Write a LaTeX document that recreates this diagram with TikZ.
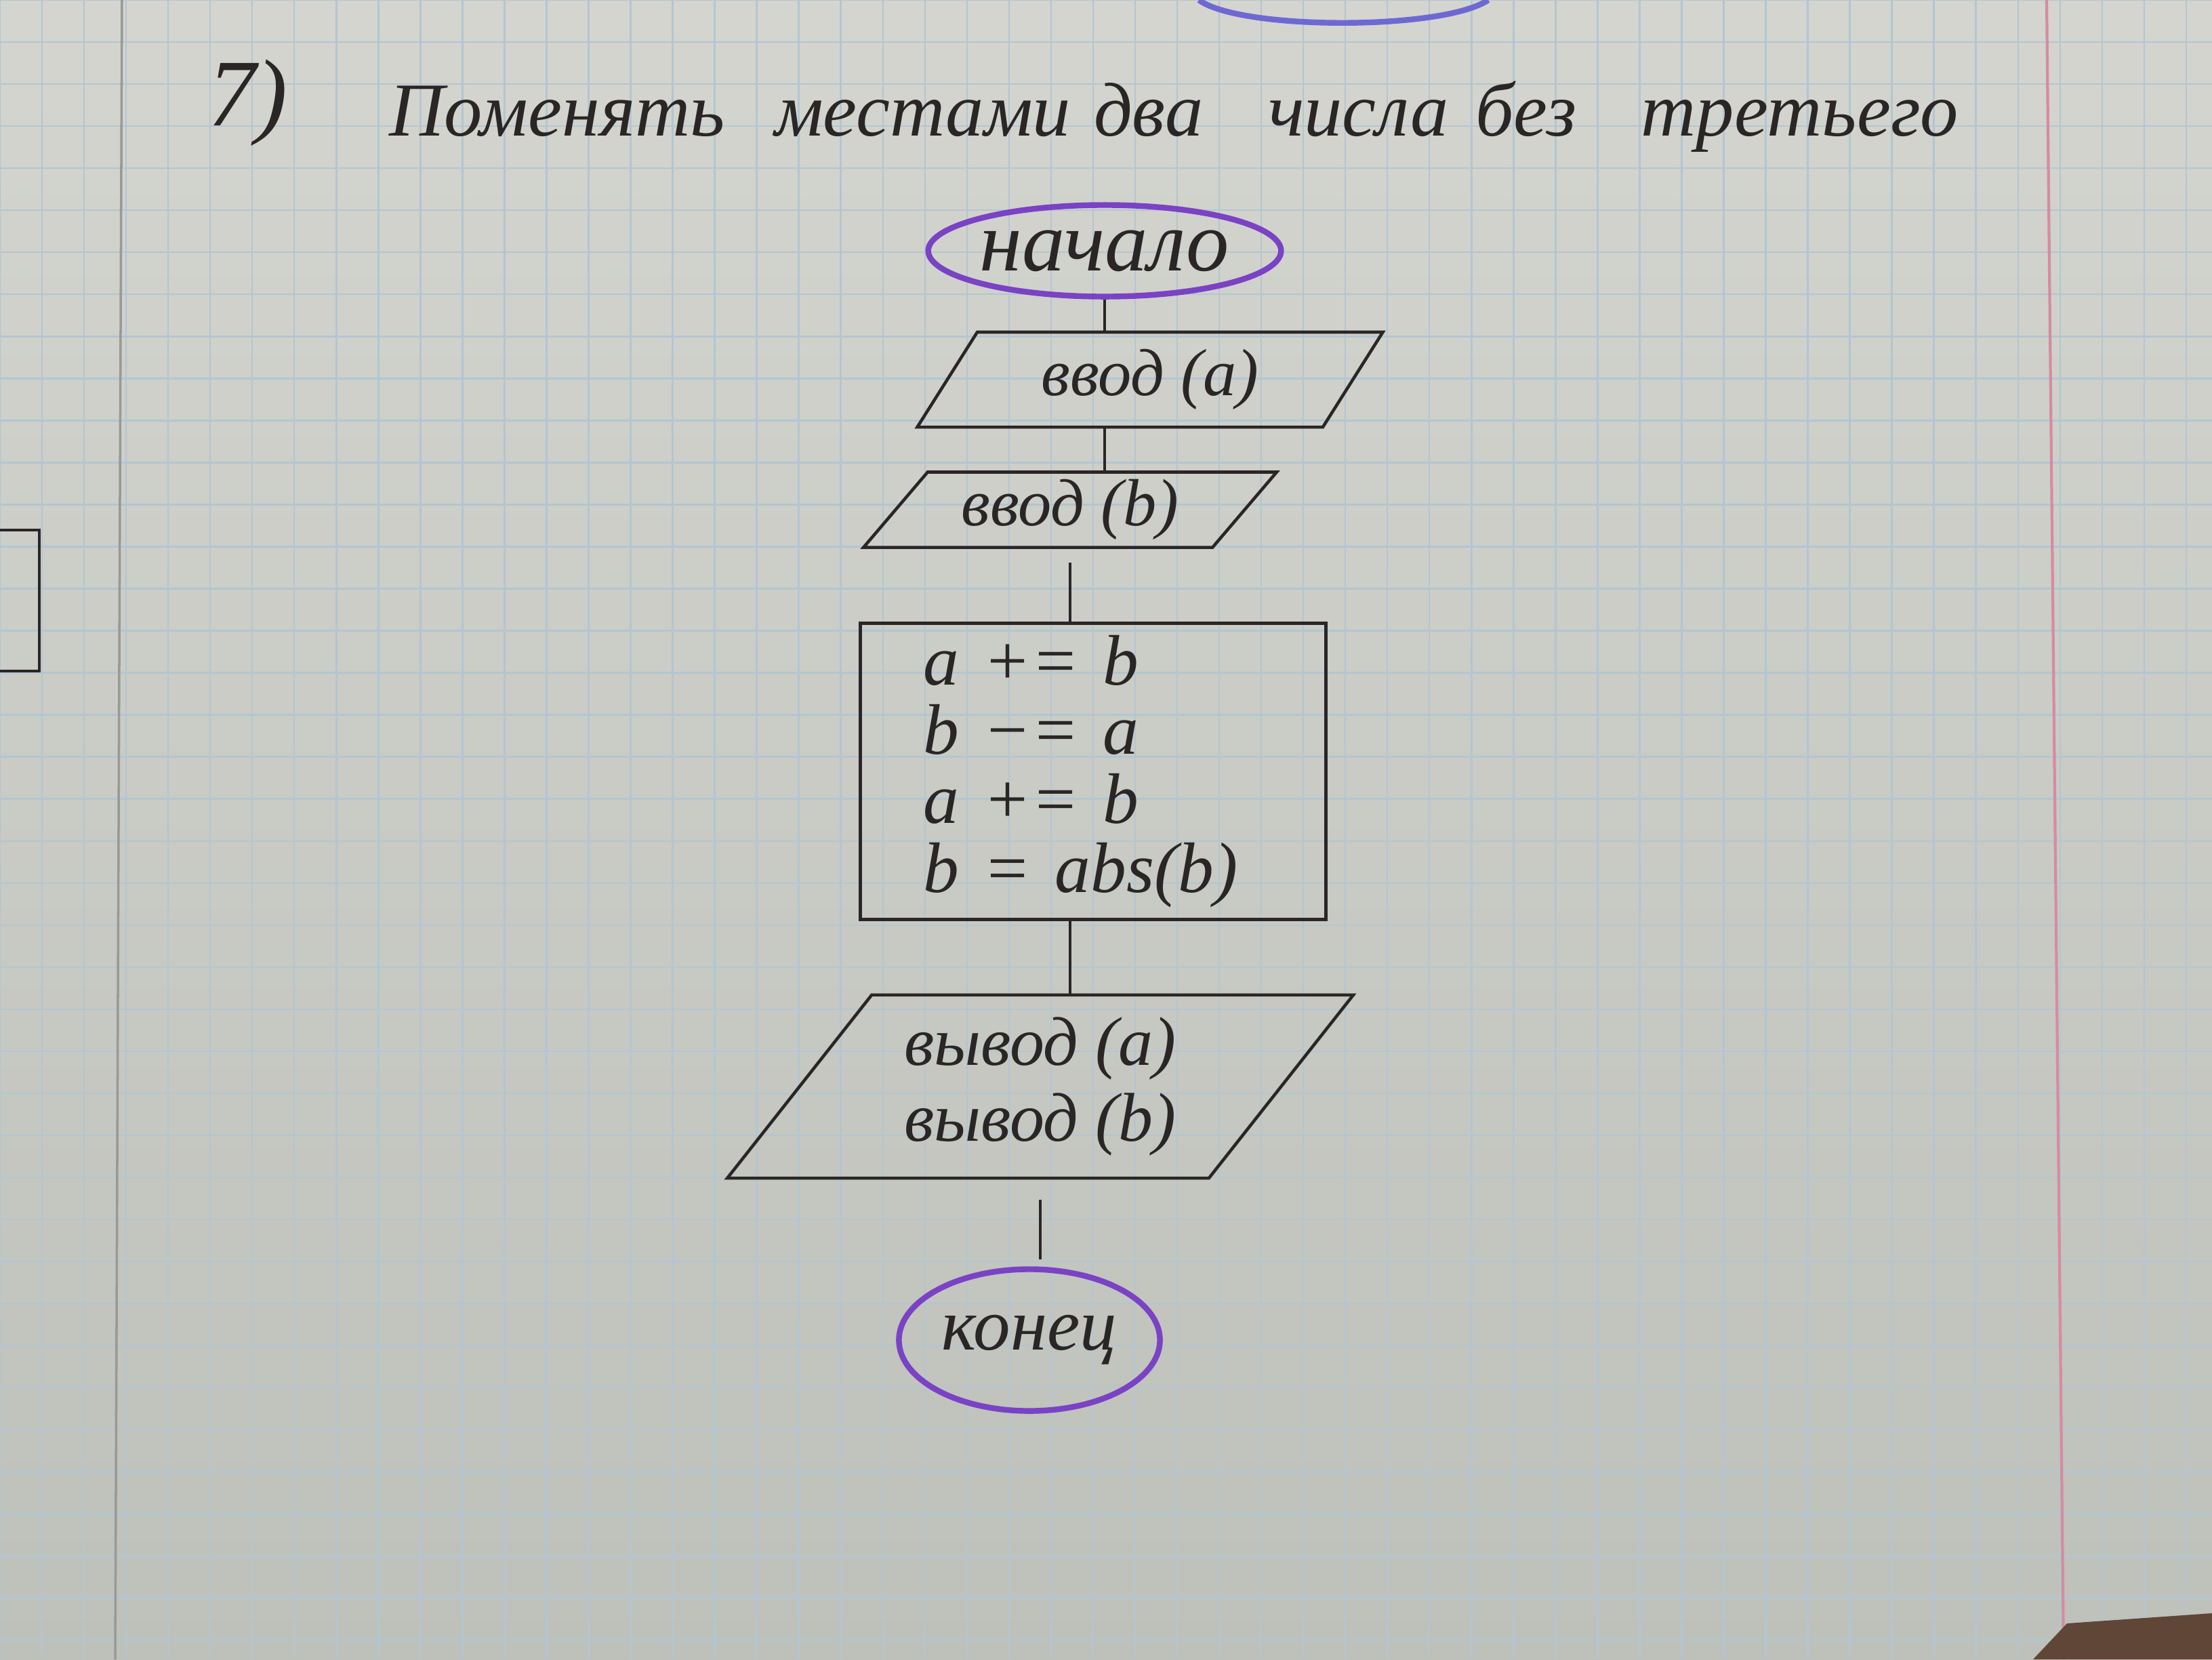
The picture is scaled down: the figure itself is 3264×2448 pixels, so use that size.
\documentclass[tikz,border=0pt]{standalone}
\usepackage{fontspec}
\setmainfont{Liberation Serif}
\usepackage{tikz}
\usetikzlibrary{shapes.geometric}
\definecolor{paper}{RGB}{212,213,207}
\definecolor{paperdark}{RGB}{190,192,186}
\definecolor{gridblue}{RGB}{178,198,210}
\definecolor{margin}{RGB}{214,140,160}
\definecolor{ink}{RGB}{42,38,38}
\definecolor{pen}{RGB}{122,66,196}
\definecolor{penblue}{RGB}{110,105,210}
\definecolor{table}{RGB}{95,70,55}
\tikzstyle{term} = [ellipse, draw=pen, line width=2.4pt, inner sep=0pt, text=ink]
\tikzstyle{io} = [trapezium, trapezium stretches=true, draw=ink, line width=1.3pt, inner sep=0pt, align=center, text=ink]
\tikzstyle{block} = [rectangle, draw=ink, line width=1.3pt, align=left, text=ink]
\tikzstyle{line} = [draw=ink, line width=1.3pt]
\newcommand{\hand}[2]{\itshape\fontsize{#1}{#2}\selectfont}

\begin{document}
\begin{tikzpicture}[x=0.01cm, y=-0.01cm]
\useasboundingbox (0,0) rectangle (3264,2448);
% paper and grid
\shade[top color=paper, bottom color=paperdark] (0,0) rectangle (3264,2448);
\draw[gridblue, line width=0.7pt, step=0.62cm] (0,0) grid (3264,2448);
\draw[margin, line width=1.2pt] (3020,0) -- (3045,2448);
\draw[paperdark!80!black, line width=1pt] (180,0) -- (170,2448);
\fill[table] (3000,2448) -- (3050,2395) -- (3264,2380) -- (3264,2448) -- cycle;
% leftovers of the previous task
\draw[penblue, line width=2.4pt] (1769,0) .. controls (1830,45) and (2130,45) .. (2196,0);
\draw[ink, line width=1.2pt] (0,782) -- (58,782) -- (58,990) -- (0,990);

% title
\node (num) [text=ink, anchor=base west, font=\hand{40}{40}] at (295,185) {7)};
\node (title) [text=ink, anchor=base west, font=\hand{32}{32}] at (562,200) {Поменять\hspace{0.4em} местами\hspace{0.05em} два\hspace{0.6em} числа\hspace{0.1em} без\hspace{0.6em} третьего};

% flowchart
\node (start) [term, minimum width=5.2cm, minimum height=1.35cm, font=\hand{36}{36}] at (1630,370) {начало};
\node (in_a) [io, trapezium left angle=58, trapezium right angle=122, minimum width=6.87cm, minimum height=1.4cm, font=\hand{28}{28}] at (1697,560) {ввод (a)};
\node (in_b) [io, trapezium left angle=51, trapezium right angle=129, minimum width=6.1cm, minimum height=1.11cm, font=\hand{28}{28}] at (1579,752) {ввод (b)};
\node (calc) [block, minimum width=6.87cm, minimum height=4.37cm, text width=5.01cm, inner xsep=0.93cm, font=\hand{30}{29}] at (1613,1138) {a += b\\b −= a\\a += b\\b = abs(b)};
\node (out) [io, trapezium left angle=50, trapezium right angle=130, minimum width=9.26cm, minimum height=2.7cm, font=\hand{29}{32}] at (1535,1603) {вывод (a)\\вывод (b)};
\node (end) [term, minimum width=3.85cm, minimum height=2.09cm, font=\hand{31}{31}] at (1519,1977) {конец};

\draw [line] (start.south) -- (in_a.north -| start.south);
\draw [line] (in_a.south -| start.south) -- (in_b.north -| start.south);
\draw [line, shorten <=0.2cm] (in_b.south) -- (calc.north -| in_b.south);
\draw [line] (calc.south -| in_b.south) -- (out.north -| in_b.south);
\draw [line, shorten <=0.3cm, shorten >=0.1cm] (out.south) -- (end.north -| out.south);
\end{tikzpicture}
\end{document}
